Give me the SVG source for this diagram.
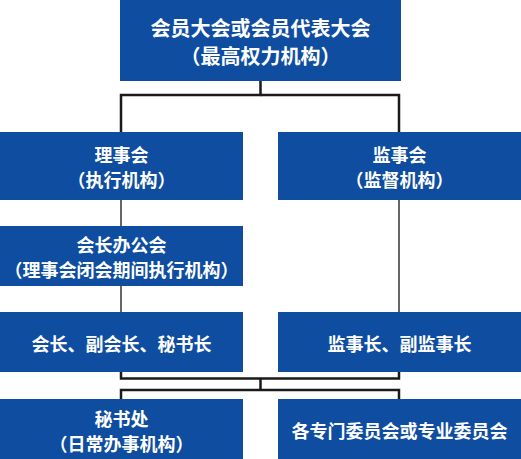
<svg xmlns="http://www.w3.org/2000/svg" width="521" height="459" viewBox="0 0 521 459">
<style>
.box{fill:#0E4DA0;}
.t{fill:#fff;font-family:"Noto Sans CJK SC","Noto Sans",sans-serif;font-size:18px;font-weight:bold;text-anchor:middle;dominant-baseline:central;}
.big{font-size:20px;}
.c{fill:none;stroke:#1a1a1a;stroke-width:2.5;}
.thin{stroke:#333;stroke-width:1.5;}
</style>
<rect width="521" height="459" fill="#fff"/>
<g id="connectors">
<polyline class="c" points="260.5,81 260.5,95 121,95 121,132"/>
<polyline class="c" points="260.5,95 399,95 399,132"/>
<line class="c thin" x1="121" y1="200" x2="121" y2="226"/>
<line class="c thin" x1="121" y1="286" x2="121" y2="312"/>
<line class="c thin" x1="399" y1="200" x2="399" y2="312"/>
<polyline class="c" points="121,372 121,378.5 399,378.5 399,372"/>
<line class="c" x1="260.5" y1="378.5" x2="260.5" y2="390"/>
<polyline class="c" points="121,399 121,390 399,390 399,399"/>
</g>
<g id="n1"><rect class="box" x="120" y="0" width="281" height="81"/><text class="t big" x="260.5" y="27.5">会员大会或会员代表大会</text><text class="t big" x="260.5" y="55.5">（最高权力机构）</text></g>
<g id="n2"><rect class="box" x="0" y="132" width="243" height="68"/><text class="t" x="121.5" y="154">理事会</text><text class="t" x="121.5" y="179">（执行机构）</text></g>
<g id="n3"><rect class="box" x="278" y="132" width="243" height="68"/><text class="t" x="399.5" y="154">监事会</text><text class="t" x="399.5" y="179">（监督机构）</text></g>
<g id="n4"><rect class="box" x="0" y="226" width="243" height="60"/><text class="t" x="121.5" y="244">会长办公会</text><text class="t" x="121.5" y="269">（理事会闭会期间执行机构）</text></g>
<g id="n5"><rect class="box" x="0" y="312" width="243" height="60"/><text class="t" x="121.5" y="343">会长、副会长、秘书长</text></g>
<g id="n6"><rect class="box" x="278" y="312" width="243" height="60"/><text class="t" x="399.5" y="343">监事长、副监事长</text></g>
<g id="n7"><rect class="box" x="0" y="399" width="243" height="60"/><text class="t" x="121.5" y="417.5">秘书处</text><text class="t" x="121.5" y="442.5">（日常办事机构）</text></g>
<g id="n8"><rect class="box" x="278" y="399" width="243" height="60"/><text class="t" x="399.5" y="430">各专门委员会或专业委员会</text></g>
</svg>
